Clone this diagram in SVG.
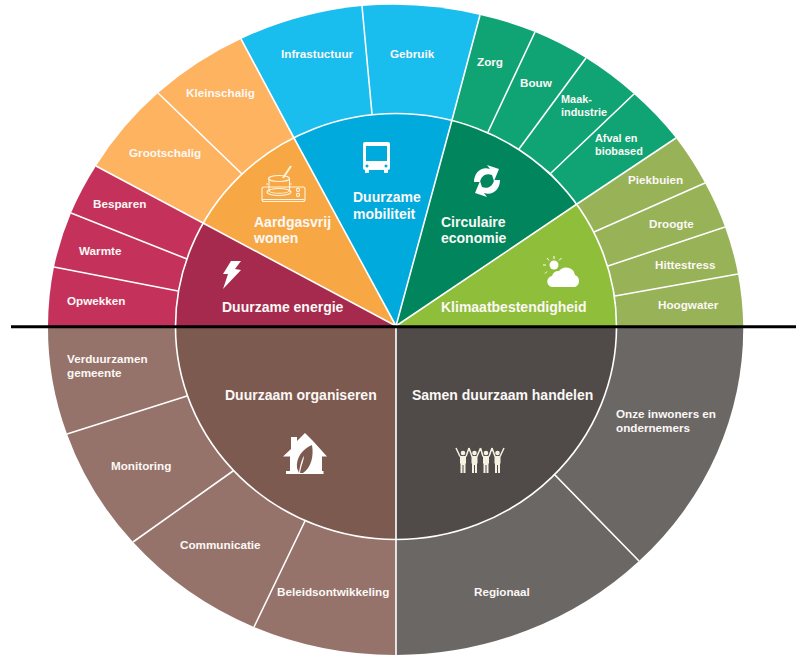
<svg xmlns="http://www.w3.org/2000/svg" width="800" height="664" viewBox="0 0 800 664">
<style>
text{font-family:"Liberation Sans",Arial,sans-serif;font-weight:bold;fill:#fbf8f6}
.s{font-size:11.7px}
.t{font-size:10.9px}
.b{font-size:14px}
.div{stroke:#fff;stroke-width:1.6;fill:none}
.ic{fill:#fff}
.en{fill:#c4325b}.or{fill:#fdb35f}.bl{fill:#19bdee}.gr{fill:#10a474}.li{fill:#98b257}.br{fill:#96736a}.da{fill:#6b6765}
</style>
<rect width="800" height="664" fill="#fff"/>
<g id="outer-ring">
<g id="opwekken"><path class="en" d="M176,326L48,326A347.500 325 0 0 1 54,267L178,291Z"/><text class="s" x="67" y="305">Opwekken</text></g>
<g id="warmte"><path class="en" d="M178,291L54,267A347.500 325 0 0 1 71,213L187,259Z"/><text class="s" x="79" y="255">Warmte</text></g>
<g id="besparen"><path class="en" d="M187,259L71,213A347.500 325 0 0 1 96,166L203,223Z"/><text class="s" x="93" y="208">Besparen</text></g>
<g id="grootschalig"><path class="or" d="M203,223L96,166A347.500 325 0 0 1 158,93L242,174Z"/><text class="s" x="129" y="157">Grootschalig</text></g>
<g id="kleinschalig"><path class="or" d="M242,174L158,93A347.500 325 0 0 1 241,39L294,138Z"/><text class="s" x="186" y="97">Kleinschalig</text></g>
<g id="infrastructuur"><path class="bl" d="M294,138L241,39A347.500 325 0 0 1 362,6L372,114Z"/><text class="s" x="281" y="58">Infrastuctuur</text></g>
<g id="gebruik"><path class="bl" d="M372,114L362,6A347.500 325 0 0 1 480,15L452,120Z"/><text class="s" x="390" y="58">Gebruik</text></g>
<g id="zorg"><path class="gr" d="M452,120L480,15A347.500 325 0 0 1 535,32L488,132Z"/><text class="s" x="477" y="66">Zorg</text></g>
<g id="bouw"><path class="gr" d="M488,132L535,32A347.500 325 0 0 1 586,58L519,149Z"/><text class="s" x="520" y="87">Bouw</text></g>
<g id="maakindustrie"><path class="gr" d="M519,149L586,58A347.500 325 0 0 1 634,94L551,173Z"/><text class="t" x="561" y="103">Maak-</text><text class="t" x="561" y="116">industrie</text></g>
<g id="afval"><path class="gr" d="M551,173L634,94A347.500 325 0 0 1 676,138L577,204Z"/><text class="t" x="595" y="142">Afval en</text><text class="t" x="595" y="155">biobased</text></g>
<g id="piekbuien"><path class="li" d="M577,204L676,138A347.500 325 0 0 1 705,183L594,232Z"/><text class="s" x="628" y="184">Piekbuien</text></g>
<g id="droogte"><path class="li" d="M594,232L705,183A347.500 325 0 0 1 725,227L608,266Z"/><text class="s" x="649" y="228">Droogte</text></g>
<g id="hittestress"><path class="li" d="M608,266L725,227A347.500 325 0 0 1 738,274L615,296Z"/><text class="s" x="655" y="269">Hittestress</text></g>
<g id="hoogwater"><path class="li" d="M615,296L738,274A347.500 325 0 0 1 743.200,326L616,326Z"/><text class="s" x="658" y="309">Hoogwater</text></g>
<g id="verduurzamen"><path class="br" d="M176,326L48,326A347.500 325 0 0 0 67,434L187,396Z"/><text class="s" x="67" y="363">Verduurzamen</text><text class="s" x="67" y="377">gemeente</text></g>
<g id="monitoring"><path class="br" d="M187,396L67,434A347.500 325 0 0 0 133,542L233,471Z"/><text class="s" x="111" y="470">Monitoring</text></g>
<g id="communicatie"><path class="br" d="M233,471L133,542A347.500 325 0 0 0 254,627L305,521Z"/><text class="s" x="180" y="549">Communicatie</text></g>
<g id="beleidsontwikkeling"><path class="br" d="M305,521L254,627A347.500 325 0 0 0 396,655L396,539Z"/><text class="s" x="277" y="596">Beleidsontwikkeling</text></g>
<g id="regionaal"><path class="da" d="M396,539L396,655A347.500 325 0 0 0 639,561L554,474Z"/><text class="s" x="474" y="596">Regionaal</text></g>
<g id="inwoners"><path class="da" d="M554,474L639,561A347.500 325 0 0 0 743.200,326L616,326Z"/><text class="s" x="616" y="418">Onze inwoners en</text><text class="s" x="616" y="432">ondernemers</text></g>
</g>
<g id="inner-ring">
<g id="duurzame-energie"><path fill="#a52a4e" d="M396,326L175.500,326A220.500 213 0 0 1 203,223Z"/><text class="b" x="222" y="312">Duurzame energie</text>
<polygon class="ic" points="231,261 241,261 235,269 241,270 223,289 228,274 223,274"/></g>
<g id="aardgasvrij-wonen"><path fill="#f7a845" d="M396,326L203,223A220.500 213 0 0 1 294,138Z"/><text class="b" x="254" y="227">Aardgasvrij</text><text class="b" x="254" y="243">wonen</text>
<g fill="none" stroke="#fff3e0" stroke-width="1.100"><rect x="262" y="187" width="43" height="14.500" rx="2"/><path d="M262.500,199.500H304.500"/><ellipse cx="279" cy="178.500" rx="10.500" ry="3"/><path d="M269,178.500V191C271,194 287,194 289.500,191V178.500M268,184H266M290,184H292"/><ellipse cx="279" cy="192" rx="12" ry="3.500"/><circle cx="298" cy="190" r="1.600"/><circle cx="298" cy="195" r="1.600"/><path d="M283,178L291,166" stroke-width="2"/></g></g>
<g id="duurzame-mobiliteit"><path fill="#00aadd" d="M396,326L294,138A220.500 213 0 0 1 452,120Z"/><text class="b" x="353" y="202">Duurzame</text><text class="b" x="353" y="219">mobiliteit</text>
<path class="ic" fill-rule="evenodd" d="M365,142H388Q390,142 390,144V168Q390,170 388,170V173H384V170H369V173H365V170Q363,170 363,168V144Q363,142 365,142ZM366,146V161H387V146ZM367,164.500a1.500,1.500 0 1 0 0.010,0ZM386,164.500a1.500,1.500 0 1 0 0.010,0Z"/></g>
<g id="circulaire-economie"><path fill="#00855c" d="M396,326L452,120A220.500 213 0 0 1 577,204Z"/><text class="b" x="441" y="227">Circulaire</text><text class="b" x="441" y="243">economie</text>
<g class="ic"><path d="M474,182C474,172 482,166 490,169L487,165L499,169L494,181L492,175C486,172.500 481,176 480,182Z"/><path d="M500,180C500,190 492,196 484,193L487,197L475,193L480,181L482,187C488,189.500 493,186 494,180Z"/></g></g>
<g id="klimaatbestendigheid"><path fill="#8fbe3a" d="M396,326L577,204A220.500 213 0 0 1 616.500,326Z"/><text class="b" x="441" y="312">Klimaatbestendigheid</text>
<g class="ic"><path d="M553.500,287a5.500,5.500 0 0 1 -1.500,-11a7,7 0 0 1 7,-5a9,9 0 0 1 16,4a6.500,6.500 0 0 1 0,12z"/><circle cx="554" cy="265" r="4.500"/><path d="M554,256V259M546,265H543M561.500,258L559,260.500M547,258L549,260.500M547,271.500L545,273.500" stroke="#fff" stroke-width="1"/></g></g>
<g id="duurzaam-organiseren"><path fill="#7d5a50" d="M396,326L175.500,326A220.500 213 0 0 0 396,539.500Z"/><text class="b" x="225" y="400">Duurzaam organiseren</text>
<path class="ic" d="M305,433L313,441L327,456.500H322V471H323.500V474H286V471H290V456.500H283L291,449V437H297V441Z"/>
<path fill="#7d5a50" d="M312,445C302,449 296,458 297,468L299,473C300,464 303,457 304,456C304,460 301,466 300,473H303C311,468 314,456 312,445Z"/></g>
<g id="samen-duurzaam-handelen"><path fill="#504b49" d="M396,326L616.500,326A220.500 213 0 0 1 396,539.500Z"/><text class="b" x="412" y="400">Samen duurzaam handelen</text>
<g fill="#f6f1e2"><circle cx="463" cy="453" r="2.300"/><circle cx="474.500" cy="453" r="2.300"/><circle cx="486" cy="453" r="2.300"/><circle cx="497.500" cy="453" r="2.300"/>
<path d="M460,456H466V463.500H465.500V473H463.500V465H462.500V473H460.500V463.500H460ZM471.500,456H477.500V463.500H477V473H475V465H474V473H472V463.500H471.500ZM483,456H489V463.500H488.500V473H486.500V465H485.500V473H483.500V463.500H483ZM494.500,456H500.500V463.500H500V473H498V465H497V473H495V463.500H494.500Z"/></g>
<path fill="none" stroke="#f6f1e2" stroke-width="1.500" d="M456,448L460,456.500M469,448L466,456.500M469,448L472,456.500M480.500,448L477,456.500M480.500,448L483,456.500M492,448L489,456.500M492,448L495,456.500M504,448L500,456.500"/></g>
</g>
<g id="connectors">
<path class="div" d="M178,291L54,267M187,259L71,213M203,223L96,166M242,174L158,93M294,138L241,39M372,114L362,6M452,120L480,15M488,132L535,32M519,149L586,58M551,173L634,94M577,204L676,138M594,232L705,183M608,266L725,227M615,296L738,274M187,396L67,434M233,471L133,542M305,521L254,627M396,539L396,656M554,474L639,561"/>
<ellipse class="div" cx="396" cy="326.500" rx="220.500" ry="213"/>
<path class="div" d="M396,326L203,223M396,326L294,138M396,326L452,120M396,326L577,204M396,326V540"/>
<path d="M11,326.700H796" stroke="#000" stroke-width="3" fill="none"/>
</g>
</svg>
